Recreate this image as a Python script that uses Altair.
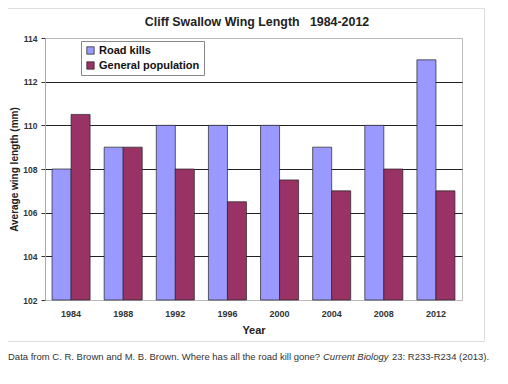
import altair as alt
import pandas as pd

years = ["1984", "1988", "1992", "1996", "2000", "2004", "2008", "2012"]
road_kills = [108, 109, 110, 110, 110, 109, 110, 113]
general_population = [110.5, 109, 108, 106.5, 107.5, 107, 108, 107]
series_names = ["Road kills", "General population"]
series_colors = ["#9999FF", "#993366"]
title_text = ["Cliff Swallow Wing Length\u00a0\u00a0\u00a01984-2012"]
cap1 = ["Data from C. R. Brown and M. B. Brown. Where has all the road kill gone?"]
cap2 = ["Current Biology"]
cap3 = ["23: R233-R234 (2013)."]

rows = []
for i, y in enumerate(years):
    rows.append({"year": y, "series": series_names[0], "value": road_kills[i]})
    rows.append({"year": y, "series": series_names[1], "value": general_population[i]})
df = pd.DataFrame(rows)

FONT = "Liberation Sans"

bars = alt.Chart(df).mark_bar(stroke="#222", strokeWidth=0.7).encode(
    x=alt.X("year:N", sort=years, title="Year",
            scale=alt.Scale(paddingInner=0.27, paddingOuter=0.135),
            axis=alt.Axis(labelAngle=0, ticks=False, labelPadding=9,
                          labelFont=FONT, labelFontWeight="bold", labelFontSize=9,
                          labelColor="#333", titleFont=FONT, titleFontWeight="bold",
                          titleFontSize=11, titleColor="#222", titlePadding=6,
                          domainColor="#bbb", grid=False)),
    xOffset=alt.XOffset("series:N", sort=series_names),
    y=alt.Y("value:Q", title="Average wing length (mm)",
            scale=alt.Scale(domain=[102, 114], zero=False, nice=False),
            axis=alt.Axis(values=[102, 104, 106, 108, 110, 112, 114],
                          labelFont=FONT, labelFontWeight="bold", labelFontSize=8.5,
                          labelColor="#333", labelPadding=4, tickSize=4, tickColor="#333",
                          domainColor="#aaa",
                          gridColor={"condition": {"test": "datum.value === 102 || datum.value === 114",
                                                   "value": "transparent"}, "value": "#222"},
                          gridWidth=1,
                          titleFont=FONT, titleFontWeight="bold", titleFontSize=10,
                          titleColor="#222", titleX=-26, titleY=131)),
    y2=alt.datum(102),
    color=alt.Color("series:N", sort=series_names,
                    scale=alt.Scale(domain=series_names, range=series_colors),
                    legend=alt.Legend(title=None, orient="none", legendX=36, legendY=3,
                                      fillColor="white", strokeColor="#888", padding=4,
                                      symbolType="square", symbolSize=55,
                                      symbolStrokeColor="#222", symbolStrokeWidth=0.7,
                                      labelFont=FONT, labelFontWeight="bold",
                                      labelFontSize=11, labelColor="#111",
                                      rowPadding=3, labelOffset=3)),
)

frame_df = pd.DataFrame({"k": [0]})
frame = alt.Chart(frame_df).mark_rect(fill="transparent", stroke="#ddd", strokeWidth=1).encode(
    x=alt.value(-40), x2=alt.value(439.5), y=alt.value(-29.5), y2=alt.value(303.5)
)

title = alt.Chart(pd.DataFrame({"t": title_text})).mark_text(
    align="center", baseline="middle", font=FONT, fontSize=12.4, fontWeight="bold", color="#222"
).encode(text="t:N", x=alt.value(212), y=alt.value(-16))


def cap(text, x, italic=False):
    return alt.Chart(pd.DataFrame({"t": text})).mark_text(
        align="left", baseline="middle", font=FONT, fontSize=9.5, color="#333",
        fontStyle="italic" if italic else "normal"
    ).encode(text="t:N", x=alt.value(x), y=alt.value(319))


chart = alt.layer(
    frame, bars, title, cap(cap1, -37), cap(cap2, 278, True), cap(cap3, 347)
).properties(
    width=417, height=262,
    autosize=alt.AutoSizeParams(type="none"),
    padding={"left": 37, "top": 30, "right": 30, "bottom": 64},
).configure_view(stroke="#bbb")

chart.save("out.html", embed_options={"renderer": "svg", "actions": False})
